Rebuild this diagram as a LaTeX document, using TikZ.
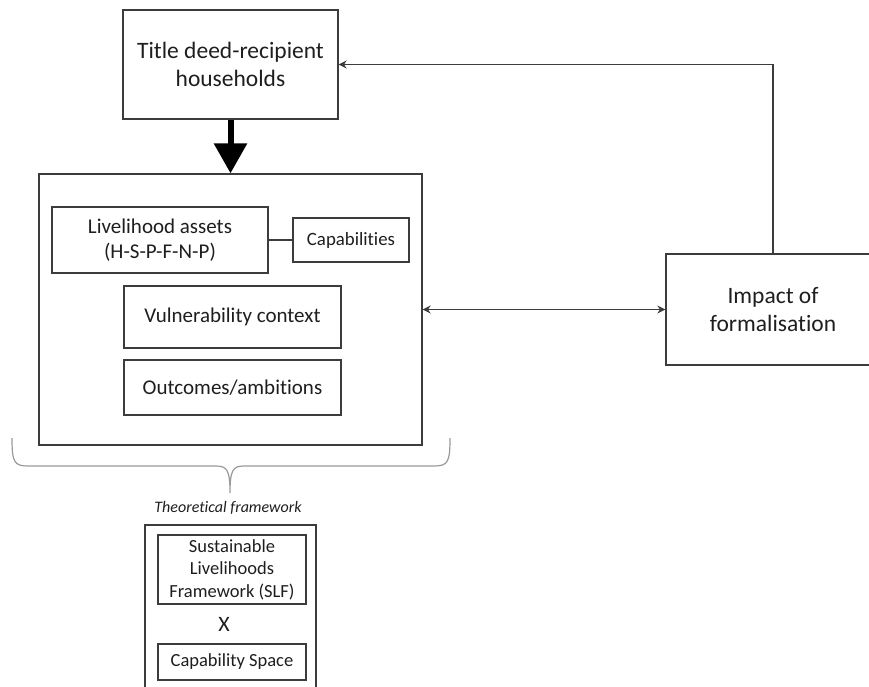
\documentclass[tikz,border=0pt]{standalone}
\usepackage{fontspec}
\setmainfont[Ligatures=NoCommon]{Carlito}
\usetikzlibrary{arrows.meta}
\definecolor{edge}{HTML}{3C3C3C}
\definecolor{ink}{HTML}{1E1E1E}
\definecolor{bracegray}{HTML}{9A9A9A}
\tikzset{
  box/.style={draw=edge, line width=1.3pt, inner sep=0pt, align=center, text=ink},
  fs/.style n args={2}{font=\fontsize{#1}{#2}\selectfont},
  link/.style={draw=edge, line width=1.2pt},
  smalltip/.style={-{Stealth[length=8pt,width=8pt]}},
}
\begin{document}
\begin{tikzpicture}[x=1pt,y=-1pt]
\useasboundingbox (0,0) rectangle (869,686);

% top: recipient households
\node[box, fs={23.5}{28}, minimum width=215pt, minimum height=109pt] (title) at (230.5,64.5)
  {Title deed-recipient\\households};

% central livelihood block
\node[box, minimum width=383pt, minimum height=271pt] (core) at (230.5,309.5) {};
\node[box, fs={21}{25}, minimum width=216pt, minimum height=66pt] (assets) at (160,240)
  {Livelihood assets\\(H-S-P-F-N-P)};
\node[box, fs={18.8}{22}, minimum width=116pt, minimum height=44pt] (caps) at (351,240)
  {Capabilities};
\node[box, fs={21}{25}, minimum width=217pt, minimum height=62pt] (vuln) at (232.5,317)
  {Vulnerability context};
\node[box, fs={21}{25}, minimum width=217pt, minimum height=55pt] (outc) at (232.5,387.5)
  {Outcomes/ambitions};

% impact box on the right
\node[box, fs={23.5}{28}, minimum width=214pt, minimum height=111pt] (impact) at (773,309.5)
  {Impact of\\formalisation};

% theoretical framework
\node[text=ink, font=\itshape\fontsize{16}{19}\selectfont] (theory) at (228,508)
  {Theoretical framework};
\node[box, minimum width=171pt, minimum height=175pt] (frame) at (230.5,612.5) {};
\node[box, fs={18.5}{22.5}, minimum width=148pt, minimum height=69pt] (slf) at (232,569.5)
  {Sustainable\\Livelihoods\\Framework (SLF)};
\node[fs={22}{26}, text=ink] (cross) at (224,624) {X};
\node[box, fs={18.5}{22.5}, minimum width=148pt, minimum height=36pt] (space) at (232,662)
  {Capability Space};

% connectors
\draw[black, line width=6pt, -{Triangle[length=30pt,width=32pt]}] (title.south) -- (core.north);
\draw[link] (assets.east) -- (caps.west);
\draw[link, {Stealth[length=8pt,width=8pt]}-{Stealth[length=8pt,width=8pt]}] (core.east) -- (impact.west);
\draw[link, smalltip] (impact.north) |- (title.east);

% brace under the central block
\coordinate (tip) at (230,493);
\draw[bracegray, line width=1.2pt]
  (12,438) .. controls (12,462) and (14,466) .. (28,466) -- (216,466)
  .. controls (227,466) and (230,470) .. (tip)
  (450,438) .. controls (450,462) and (448,466) .. (434,466) -- (244,466)
  .. controls (233,466) and (230,470) .. (tip);
\end{tikzpicture}
\end{document}
